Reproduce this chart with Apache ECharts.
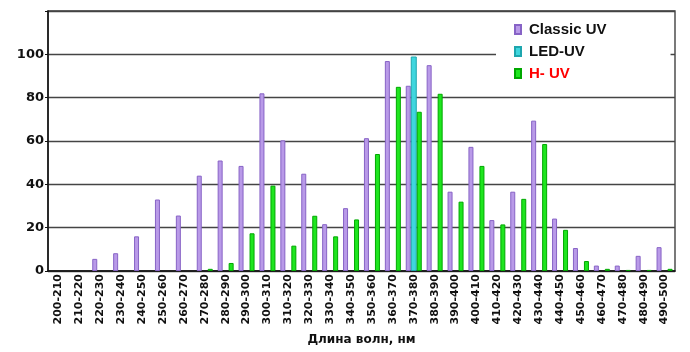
<!DOCTYPE html>
<html>
<head>
<meta charset="utf-8">
<script src="https://cdn.jsdelivr.net/npm/echarts@6/dist/echarts.min.js"></script>
<style>
  html, body { margin: 0; padding: 0; background: #fff; }
  #chart { width: 690px; height: 352px; }
</style>
</head>
<body>
<div id="chart"></div>
<script>
// wavelength bins
var categories = ['200-210', '210-220', '220-230', '230-240', '240-250', '250-260',
  '260-270', '270-280', '280-290', '290-300', '300-310', '310-320', '320-330',
  '330-340', '340-350', '350-360', '360-370', '370-380', '380-390', '390-400',
  '400-410', '410-420', '420-430', '430-440', '440-450', '450-460', '460-470',
  '470-480', '480-490', '490-500'];

var classicUV = [null, null, 5.6, 8.2, 16, 33, 25.6, 44, 51, 48.5, 82, 60.3, 44.9, 21.6, 29,
  61.3, 96.9, 85.5, 95, 36.6, 57.3, 23.5, 36.6, 69.4, 24.2, 10.6, 2.5, 2.5, 7, 11];

var ledUV = [null, null, null, null, null, null, null, null, null, null, null, null,
  null, null, null, null, null, 99, null, null, null, null, null, null, null, null,
  null, null, null, null];

var hUV = [null, null, null, null, null, null, null, 1, 3.7, 17.4, 39.4, 11.7, 25.5, 16, 23.8, 54, 85,
  73.5, 81.8, 32, 48.5, 21.5, 33.3, 58.6, 19, 4.6, 1, 0.5, 0.5, 1];

var yTicks = [0, 20, 40, 60, 80, 100];

var axisFont = 'DejaVu Sans';

var chart = echarts.init(document.getElementById('chart'));
chart.setOption({
  animation: false,
  grid: {
    left: 48,
    right: 15,
    top: 11,
    bottom: 81,
    show: true,
    borderColor: '#333',
    borderWidth: 1.3
  },
  legend: {
    orient: 'vertical',
    left: 496,
    top: 14,
    padding: [8, 64, 8, 18],
    backgroundColor: '#fff',
    icon: 'rect',
    itemWidth: 6,
    itemHeight: 9,
    itemGap: 7,
    textStyle: {
      fontFamily: 'Liberation Sans',
      fontWeight: 'bold',
      fontSize: 15,
      color: '#111',
      padding: [0, 0, 0, 3]
    },
    data: [
      { name: 'Classic UV' },
      { name: 'LED-UV' },
      { name: 'H- UV', textStyle: { color: '#f00' } }
    ]
  },
  xAxis: {
    type: 'category',
    data: categories,
    name: 'Длина волн, нм',
    nameLocation: 'middle',
    nameGap: 63,
    nameTextStyle: {
      fontFamily: axisFont,
      fontWeight: 'bold',
      fontSize: 12,
      color: '#111'
    },
    axisLine: { lineStyle: { color: '#111', width: 1.5 } },
    axisTick: { inside: true, length: 3, lineStyle: { color: '#555' } },
    axisLabel: {
      rotate: 90,
      interval: 0,
      margin: 3,
      fontFamily: axisFont,
      fontWeight: 'bold',
      fontSize: 11,
      color: '#111'
    }
  },
  yAxis: {
    type: 'value',
    min: 0,
    max: 120,
    interval: 20,
    axisLine: { show: true, lineStyle: { color: '#111', width: 1.5 } },
    axisTick: { show: true, length: 3, lineStyle: { color: '#111' } },
    axisLabel: {
      margin: 4,
      fontFamily: axisFont,
      fontWeight: 'bold',
      fontSize: 13,
      color: '#111',
      formatter: function (v) {
        return yTicks.indexOf(v) >= 0 ? String(v) : '';
      }
    },
    splitLine: { lineStyle: { color: '#444', width: 1.3 } }
  },
  series: [{
    name: 'Classic UV',
    type: 'bar',
    barWidth: 5,
    barGap: '0%',
    data: classicUV,
    itemStyle: { color: '#b99ae8', borderColor: '#8763c6', borderWidth: 1 }
  }, {
    name: 'LED-UV',
    type: 'bar',
    barWidth: 6,
    barGap: '0%',
    data: ledUV,
    itemStyle: { color: '#3fd6de', borderColor: '#1ea6ae', borderWidth: 1 }
  }, {
    name: 'H- UV',
    type: 'bar',
    barWidth: 5,
    barGap: '0%',
    data: hUV,
    itemStyle: { color: '#1ee61e', borderColor: '#00a800', borderWidth: 1 }
  }]
});
</script>
</body>
</html>
